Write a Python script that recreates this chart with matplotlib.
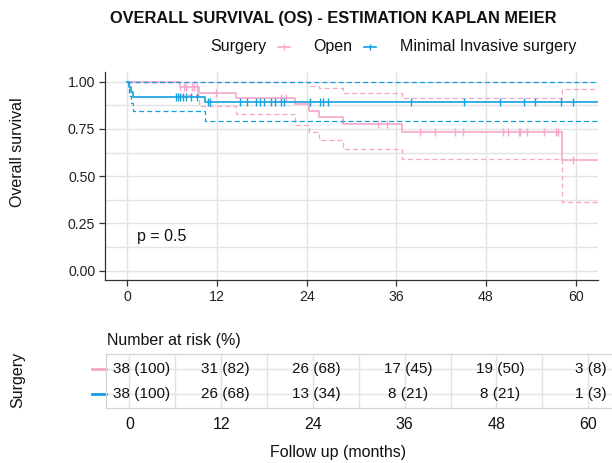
import numpy as np
import matplotlib
matplotlib.use('Agg')
import matplotlib.pyplot as plt
from matplotlib.lines import Line2D
import matplotlib.transforms as mtransforms

plt.rcParams['font.family'] = ['Liberation Sans', 'DejaVu Sans']

# ---------------- data ----------------
open_times = [0, 7.0, 9.6, 14.5, 22.5, 24.3, 25.7, 28.9, 36.8, 58.2]
open_surv = [1.0, 0.974, 0.939, 0.915, 0.882, 0.847, 0.815, 0.776, 0.735, 0.587]
open_lower = [1.0, 0.930, 0.871, 0.829, 0.773, 0.732, 0.692, 0.644, 0.591, 0.362]
open_upper = [1.0, 1.0, 1.0, 1.0, 1.0, 0.979, 0.965, 0.939, 0.914, 0.961]
open_censor = [7.6, 7.9, 8.6, 8.9, 9.3, 11.8, 20.5, 21.2, 33.5, 34.7, 39.2, 41.2,
               43.9, 44.9, 50.3, 51.0, 52.4, 52.6, 53.5, 55.8, 57.4, 57.7, 59.6]

mis_times = [0, 0.15, 0.45, 0.75, 10.4]
mis_surv = [1.0, 0.974, 0.947, 0.921, 0.893]
mis_lower = [1.0, 0.925, 0.885, 0.845, 0.792]
mis_upper = [1.0, 1.0, 1.0, 1.0, 1.0]
mis_censor = [6.5, 6.8, 7.1, 7.5, 7.9, 8.5, 9.3, 10.8, 11.1, 15.1, 16.0, 17.2, 17.7,
              18.3, 19.2, 19.8, 20.5, 21.0, 24.4, 25.8, 26.2, 26.9, 37.9, 45.1,
              49.9, 53.1, 54.6, 58.0, 59.7]
follow_up_end = 63

risk_times = [0, 12, 24, 36, 48, 60]
risk_open = [38, 31, 26, 17, 19, 3]
risk_open_pct = [100, 82, 68, 45, 50, 8]
risk_mis = [38, 26, 13, 8, 8, 1]
risk_mis_pct = [100, 68, 34, 21, 21, 3]

groups = ['Open', 'Minimal Invasive surgery']
y_ticks = [0.00, 0.25, 0.50, 0.75, 1.00]
p_text = 'p = 0.5'

PINK = '#F5A7C9'
BLUE = '#12A0E0'
GRID = '#E3E3E3'
FS = 11.5
TFS = 10.2

W, H = 612, 463
fig = plt.figure(figsize=(W / 100, H / 100), dpi=100)

def fx(px):
    return px / W

def fy(py):
    return 1 - py / H

# ---------------- main KM panel ----------------
ax = fig.add_axes([fx(105), fy(280.2), fx(598) - fx(105), fy(72.2) - fy(280.2)])
ax.set_xlim(-3, 63)
ax.set_ylim(-0.05, 1.05)
ax.set_xticks(risk_times)
ax.set_yticks(y_ticks)
ax.set_yticklabels([f'{v:.2f}' for v in y_ticks])
for v in np.arange(0, 1.01, 0.125):
    ax.axhline(v, color=GRID, lw=1.0, zorder=0)
for t in risk_times:
    ax.axvline(t, color=GRID, lw=1.0, zorder=0)
for s in ['top', 'right']:
    ax.spines[s].set_visible(False)
for s in ['left', 'bottom']:
    ax.spines[s].set_color('#333333')
    ax.spines[s].set_linewidth(0.9)
ax.tick_params(axis='both', length=4, width=0.9, color='#333333', labelsize=TFS,
               labelcolor='#222222', pad=3)


def draw_group(times, surv, lower, upper, censor, color, z):
    t = list(times) + [follow_up_end]
    ext = lambda a: list(a) + [a[-1]]
    ax.step(t, ext(lower), where='post', color=color, lw=0.9, ls=(0, (4, 2.5)), zorder=z)
    ax.step(t, ext(upper), where='post', color=color, lw=0.9, ls=(0, (4, 2.5)), zorder=z)
    ax.step(t, ext(surv), where='post', color=color, lw=1.2, zorder=z + 1)
    idx = np.searchsorted(np.array(times), np.array(censor), side='right') - 1
    cy = np.array(surv)[idx]
    ax.plot(censor, cy, ls='none', marker='|', ms=5.5, mew=1.0, color=color, zorder=z + 1)


draw_group(open_times, open_surv, open_lower, open_upper, open_censor, PINK, 2)
draw_group(mis_times, mis_surv, mis_lower, mis_upper, mis_censor, BLUE, 4)

ax.text(1.3, 0.18, p_text, fontsize=FS, ha='left', va='center', color='#111111')

fig.text(fx(18), fy(152), 'Overall survival', rotation=90, ha='center', va='center',
         fontsize=FS, color='#111111')

# title and legend
fig.text(fx(333), fy(18), 'OVERALL SURVIVAL (OS) - ESTIMATION KAPLAN MEIER',
         ha='center', va='center', fontsize=11.8, fontweight='bold', color='#111111')
fig.text(fx(210), fy(47), 'Surgery', ha='left', va='center', fontsize=FS, color='#111111')
key_x = [284, 370]
lab_x = [313, 400]
for kx, lx, col, lab in zip(key_x, lab_x, [PINK, BLUE], groups):
    fig.add_artist(Line2D([fx(kx - 6), fx(kx + 6)], [fy(47), fy(47)], color=col, lw=1.2,
                          transform=fig.transFigure))
    fig.add_artist(Line2D([fx(kx)], [fy(47)], marker='|', ms=5, mew=1.0, color=col,
                          transform=fig.transFigure))
    fig.text(fx(lx), fy(47), lab, ha='left', va='center', fontsize=FS, color='#111111')

# ---------------- risk table ----------------
tx = fig.add_axes([fx(106), fy(408.3), 1 - fx(106), fy(354.3) - fy(408.3)])
tx.set_xlim(-3.05, 63.1)
tx.set_ylim(0.42, 2.58)
for s in ['left', 'top', 'bottom']:
    tx.spines[s].set_color('#D5D5D5')
    tx.spines[s].set_linewidth(0.9)
tx.spines['right'].set_visible(False)
for t in np.arange(0, 61, 6):
    tx.axvline(t, color=GRID, lw=1.0, zorder=0)
for r in [1, 2]:
    tx.axhline(r, color=GRID, lw=1.0, zorder=0)
tx.set_xticks(risk_times)
tx.set_yticks([])
tx.tick_params(axis='x', length=0, labelsize=FS, labelcolor='#111111', pad=6)

cells = []
for row, n, pct in [(2, risk_open, risk_open_pct), (1, risk_mis, risk_mis_pct)]:
    for t, a, b in zip(risk_times, n, pct):
        cells.append(tx.text(t + 0.5, row, f'{a} ({b})', ha='center', va='center',
                             fontsize=11, color='#111111'))

# keep the table texts inside the panel (nudge away from left border / figure edge)
fig.canvas.draw()
renderer = fig.canvas.get_renderer()
px_per_unit = tx.transData.transform((1, 0))[0] - tx.transData.transform((0, 0))[0]
left_px = tx.transAxes.transform((0, 0))[0] + 7
right_px = W - 5
for c in cells:
    bb = c.get_window_extent(renderer)
    shift = 0.0
    if bb.x0 < left_px:
        shift = (left_px - bb.x0) / px_per_unit
    elif bb.x1 > right_px:
        shift = -(bb.x1 - right_px) / px_per_unit
    x, y = c.get_position()
    c.set_position((x + shift, y))

trans = mtransforms.blended_transform_factory(tx.transAxes, tx.transData)
for row, col in [(2, PINK), (1, BLUE)]:
    tx.add_line(Line2D([-0.028, 0.0], [row, row], color=col, lw=2.0, transform=trans,
                       clip_on=False))

fig.text(fx(107), fy(340), 'Number at risk (%)', ha='left', va='center', fontsize=FS,
         color='#111111')
fig.text(fx(18), fy(380), 'Surgery', rotation=90, ha='center', va='center', fontsize=FS,
         color='#111111')
fig.text(fx(338), fy(452), 'Follow up (months)', ha='center', va='center', fontsize=FS,
         color='#111111')

fig.savefig('out.png', dpi=100)
